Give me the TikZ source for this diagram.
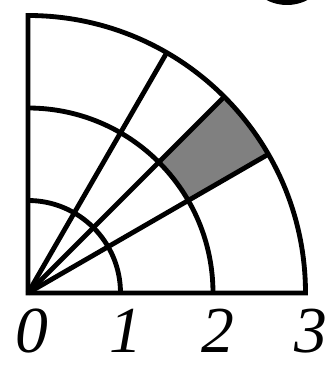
\documentclass[tikz,border=0pt]{standalone}
\usepackage{fontspec}
\setmainfont{Liberation Serif}
\begin{document}
\begin{tikzpicture}[x=0.03cm,y=0.03cm,
  grid/.style={line width=0.145cm, line join=miter},
  lab/.style={inner sep=0pt, font=\fontsize{56}{56}\selectfont\itshape}]
\useasboundingbox (0,0) rectangle (331,365);
\begin{scope}
\clip (0,0) rectangle (331,365);
\fill[black] (287,404.5) circle (44.5);
\end{scope}
\begin{scope}[shift={(28,72)}]
\def\R{92.5}
\coordinate (O) at (0,0);
\coordinate (X) at (3*\R,0);
\coordinate (Y) at (0,3*\R);
\fill[gray] (30:2*\R) -- (30:3*\R) arc (30:45:3*\R) -- (45:2*\R) arc (45:30:2*\R) -- cycle;
\draw[grid] (X) -- (O) -- (Y) arc (90:0:3*\R) -- cycle;
\draw[grid] (\R,0) arc (0:90:\R);
\draw[grid] (2*\R,0) arc (0:90:2*\R);
\coordinate (A) at (30:3*\R);
\coordinate (B) at (45:3*\R);
\coordinate (C) at (60:3*\R);
\draw[grid] (O) -- (A);
\draw[grid] (O) -- (B);
\draw[grid] (O) -- (C);
\node[lab] (l0) at (4,-38) {0};
\node[lab] (l1) at (\R+5,-38) {1};
\node[lab] (l2) at (2*\R+5,-38) {2};
\node[lab] (l3) at (3*\R+5,-38) {3};
\end{scope}
\end{tikzpicture}
\end{document}
